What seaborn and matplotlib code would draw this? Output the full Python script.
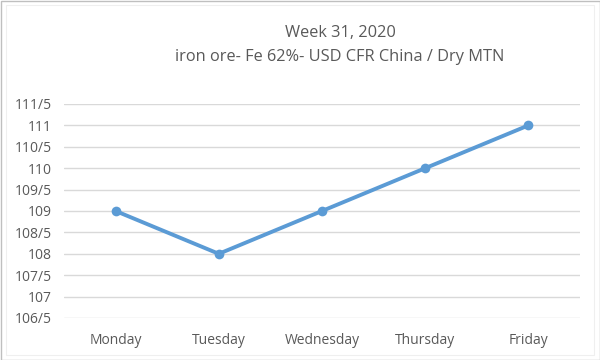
import matplotlib
matplotlib.use("Agg")
import matplotlib.pyplot as plt
import seaborn as sns
import pandas as pd
from matplotlib.ticker import FixedLocator, FuncFormatter
from matplotlib.patches import Rectangle

days = ["Monday", "Tuesday", "Wednesday", "Thursday", "Friday"]
prices = [109, 108, 109, 110, 111]
yticks = [106.5, 107, 107.5, 108, 108.5, 109, 109.5, 110, 110.5, 111, 111.5]
title_line1 = "Week 31, 2020"
title_line2 = "iron ore- Fe 62%- USD CFR China / Dry MTN"

df = pd.DataFrame({"day": days, "price": prices})

sns.set_theme(style="white")
plt.rcParams["font.family"] = ["Open Sans", "DejaVu Sans"]

fig = plt.figure(figsize=(6, 3.6), dpi=100)
ax = fig.add_axes([64/600, 1-318/360, (580-64)/600, (318-104)/360])

sns.lineplot(data=df, x="day", y="price", ax=ax, color="#5B9BD5", linewidth=2.8,
             marker="o", markersize=7, markeredgewidth=0, sort=False)

ax.set_xlim(-0.5, 4.5)
ax.set_ylim(106.5, 111.5)
ax.yaxis.set_major_locator(FixedLocator(yticks))

def fmt(v, pos):
    if abs(v - round(v)) < 1e-6:
        return f"{int(round(v))}"
    return f"{int(v)}/5"

ax.yaxis.set_major_formatter(FuncFormatter(fmt))
ax.grid(axis="y", color="#D9D9D9", linewidth=1)
ax.grid(axis="x", visible=False)
ax.set_axisbelow(True)
for s in ax.spines.values():
    s.set_visible(False)
ax.set_xlabel("")
ax.set_ylabel("")
ax.tick_params(axis="both", length=0, labelsize=10, labelcolor="#595959")
ax.tick_params(axis="y", pad=9)
ax.tick_params(axis="x", pad=11)

fig.text(340/600, 1-33/360, title_line1, ha="center", va="center", fontsize=11.8, color="#595959")
fig.text(340/600, 1-57/360, title_line2, ha="center", va="center", fontsize=11.8, color="#595959")

fig.patches.append(Rectangle((0.5/600, 0.5/360), 599/600, 359/360, transform=fig.transFigure,
                             fill=False, edgecolor="#BFBFBF", linewidth=1))
fig.patches.append(Rectangle((6/600, 5/360), 588/600, 350/360, transform=fig.transFigure,
                             fill=False, edgecolor="#EFEFEF", linewidth=0.8))

fig.savefig("out.png", dpi=100)
